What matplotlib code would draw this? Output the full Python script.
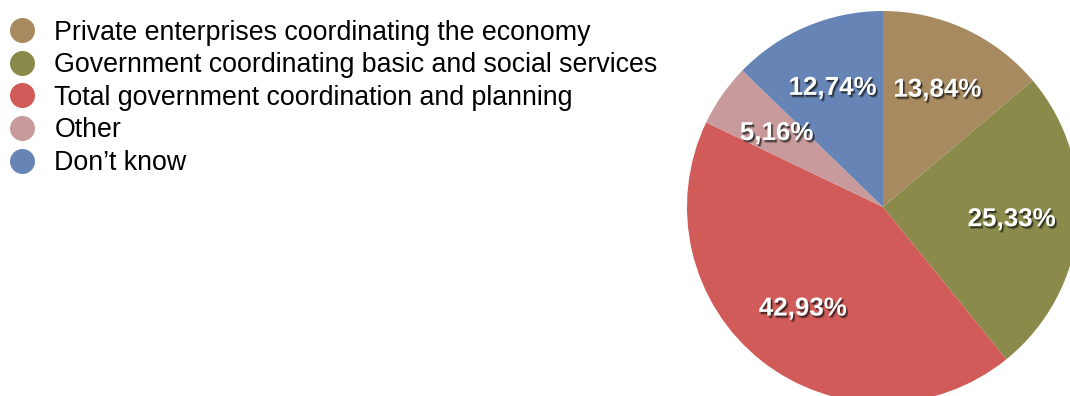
import matplotlib
matplotlib.use("Agg")
import matplotlib.pyplot as plt
import matplotlib.patheffects as pe
from matplotlib.lines import Line2D

plt.rcParams['font.family'] = ['Liberation Sans', 'DejaVu Sans']

categories = [
    "Private enterprises coordinating the economy",
    "Government coordinating basic and social services",
    "Total government coordination and planning",
    "Other",
    "Don\u2019t know",
]
shares = [13.84, 25.33, 42.93, 5.16, 12.74]
colors = ["#A78A5F", "#8A8B4B", "#D05B59", "#C89A9B", "#6684B6"]


def pct_label(p):
    return "{:.2f}%".format(p).replace(".", ",")


fig = plt.figure(figsize=(10.7, 3.96), dpi=100)

# pie sits to the right and runs off the bottom/right edge
R = 196
cx, cy = 883, 396 - 207
ax = fig.add_axes([(cx - R) / 1070, (cy - R) / 396, 2 * R / 1070, 2 * R / 396])
wedges, texts, autotexts = ax.pie(
    shares, colors=colors, startangle=90, counterclock=False,
    autopct=pct_label, pctdistance=0.66, radius=1,
    wedgeprops=dict(linewidth=0),
    textprops=dict(color="white", fontsize=18.7, fontweight="bold"),
)
for w in wedges:
    w.set_clip_on(False)
shadow = [pe.SimplePatchShadow(offset=(1.5, -2.0), shadow_rgbFace="#222222", alpha=0.35),
          pe.SimplePatchShadow(offset=(1.0, -1.2), shadow_rgbFace="black", alpha=0.5),
          pe.Normal()]
for t in autotexts:
    t.set_path_effects(shadow)
    t.set_ha("center")
    t.set_va("center")
ax.set_xlim(-1, 1)
ax.set_ylim(-1, 1)
ax.axis("off")

handles = [Line2D([], [], marker="o", linestyle="none", markersize=18,
                  markerfacecolor=c, markeredgewidth=0) for c in colors]
fig.legend(handles, categories, loc="upper left",
           bbox_to_anchor=(-6 / 1070, 1 - 5 / 396),
           frameon=False, fontsize=19.3, handlelength=1.0, handletextpad=0.7,
           labelspacing=0.245, borderaxespad=0.25, borderpad=0.3)

fig.savefig("out.png", dpi=100)
